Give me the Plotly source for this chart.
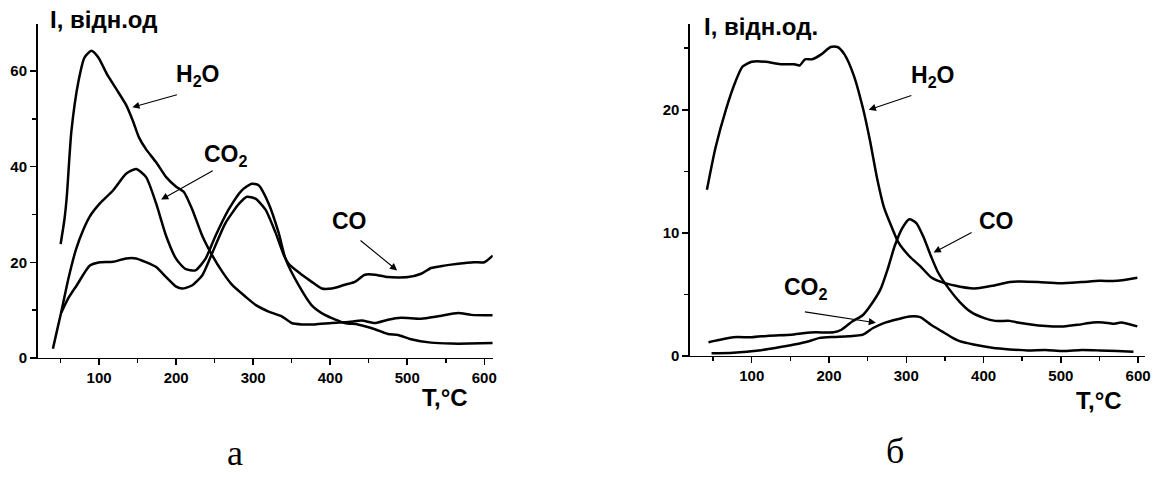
import plotly.graph_objects as go

# ---------------- panel "a" ----------------
T_H2O_a = [50, 55, 58, 64, 73, 81, 90, 99, 110, 122, 135, 144, 152, 161, 174, 187, 200, 210, 221, 234,
           247, 260, 273, 290, 303, 320, 337, 350, 363, 380, 402, 424, 441, 458, 475, 492, 518, 540, 566, 583, 611]
I_H2O_a = [23.8, 29, 33.7, 47.4, 57.7, 62.8, 64.2, 62.8, 59.4, 56.3, 52.9, 49.5, 46, 43.6, 40.9, 37.8, 35.8, 34.7, 31, 25.5,
           21.4, 18, 15.2, 12.8, 11.1, 9.7, 8.7, 7.3, 7, 7, 7.3, 7.5, 7.8, 7.3, 8, 8.4, 8.2, 8.7, 9.4, 9, 8.9]

T_CO2_a = [40, 45, 51, 60, 70, 80, 88, 101, 118, 135, 148, 161, 174, 187, 200, 212, 225, 238, 251, 268,
           285, 298, 307, 320, 333, 342, 359, 376, 393, 419, 436, 458, 475, 488, 505, 531, 557, 580, 611]
I_CO2_a = [1.9, 5.5, 9.7, 16.5, 22.7, 27, 29.6, 32.3, 35, 38.5, 39.5, 37.8, 32.3, 25.5, 20.7, 18.6, 18.3, 20.7, 25.5, 31,
           35, 36.4, 36.1, 32.3, 26.2, 20.7, 15.2, 11, 9, 7.3, 7, 6, 5, 4.8, 3.9, 3.2, 3, 3, 3.1]

T_CO_a = [51, 60, 71, 88, 101, 118, 135, 148, 161, 174, 187, 200, 208, 221, 234, 247, 264, 282, 292, 303,
          316, 329, 340, 346, 359, 376, 389, 402, 419, 432, 445, 458, 475, 501, 518, 531, 548, 566, 587, 600, 611]
I_CO_a = [9.5, 12.5, 15.2, 19.3, 20, 20.1, 20.8, 20.8, 20, 19, 16.9, 14.9, 14.5, 15.2, 17.3, 22, 28.2, 32.3, 33.7, 33.3,
          31, 26.2, 21.4, 19.7, 17.9, 15.9, 14.5, 14.5, 15.3, 15.9, 17.4, 17.4, 16.9, 16.9, 17.6, 18.8, 19.3, 19.7, 20, 20, 21.4]

# ---------------- panel "б" ----------------
T_H2O_b = [42, 53, 67, 79, 88, 100, 118, 137, 155, 162, 169, 178, 190, 202, 211, 220, 232, 244, 253, 262,
           271, 281, 290, 304, 318, 332, 346, 364, 383, 392, 411, 434, 448, 471, 499, 527, 550, 573, 599]
I_H2O_b = [13.5, 16.9, 20.1, 22.3, 23.5, 23.9, 23.9, 23.7, 23.7, 23.6, 24.1, 24.1, 24.5, 25.1, 25.1, 24.5, 22.8, 20.1, 17.5, 14.5,
           12.1, 10.5, 9.2, 8.1, 7.3, 6.4, 6.0, 5.7, 5.5, 5.5, 5.7, 6.0, 6.05, 6.0, 5.9, 6.0, 6.1, 6.1, 6.35]

T_CO_b = [44, 76, 100, 123, 151, 169, 183, 206, 216, 230, 244, 257, 267, 276, 285, 295, 304, 313, 322, 332,
          341, 355, 369, 383, 401, 415, 434, 448, 471, 490, 503, 522, 541, 555, 568, 578, 599]
I_CO_b = [1.12, 1.52, 1.52, 1.65, 1.73, 1.87, 1.92, 1.92, 2.13, 2.8, 3.33, 4.4, 5.47, 7.07, 8.93, 10.4, 11.1, 10.8, 9.7, 8.1,
          6.8, 5.47, 4.4, 3.6, 3.07, 2.85, 2.85, 2.67, 2.48, 2.4, 2.4, 2.53, 2.72, 2.72, 2.61, 2.72, 2.4]

T_CO2_b = [48, 76, 109, 132, 155, 174, 188, 206, 225, 244, 257, 271, 290, 304, 318, 332, 346, 360, 369, 387,
           411, 434, 457, 480, 503, 527, 550, 573, 594]
I_CO2_b = [0.21, 0.27, 0.45, 0.67, 0.93, 1.2, 1.47, 1.55, 1.6, 1.73, 2.27, 2.67, 3.0, 3.2, 3.15, 2.53, 2.0, 1.47, 1.2, 0.93,
           0.67, 0.53, 0.45, 0.48, 0.4, 0.48, 0.45, 0.4, 0.35]

# labels: (text, text x, text y, arrow tail x, tail y, arrow head x, head y) in data units
labels_a = [("H<sub>2</sub>O", 228, 59, 202.9, 55.1, 143.1, 52.4),
            ("CO<sub>2</sub>", 265, 42.4, 249.4, 39.3, 180.5, 33.1),
            ("CO", 425.6, 28.6, 437.4, 24.8, 486.9, 18.3)]
labels_b = [("H<sub>2</sub>O", 334.5, 22.7, 308.5, 21.2, 251.4, 20.0),
            ("CO", 416.4, 11.0, 386.5, 10.1, 335.4, 8.4),
            ("CO<sub>2</sub>", 170.7, 5.5, 166.9, 3.6, 260.7, 2.7)]

FONT = "Liberation Sans, Arial, sans-serif"
SERIF = "Liberation Serif, Times New Roman, serif"
W, H = 1163, 479

fig = go.Figure()
line = dict(color="black", width=2.5, shape="spline", smoothing=0.6)
for T, I in [(T_H2O_a, I_H2O_a), (T_CO2_a, I_CO2_a), (T_CO_a, I_CO_a)]:
    fig.add_trace(go.Scatter(x=T, y=I, mode="lines", line=line, xaxis="x", yaxis="y", showlegend=False, hoverinfo="skip"))
for T, I in [(T_H2O_b, I_H2O_b), (T_CO_b, I_CO_b), (T_CO2_b, I_CO2_b)]:
    fig.add_trace(go.Scatter(x=T, y=I, mode="lines", line=line, xaxis="x2", yaxis="y2", showlegend=False, hoverinfo="skip"))

tickfont = dict(family=FONT, size=15, color="black", weight="bold")
def xax(rng, dom, anchor):
    return dict(domain=dom, range=rng, anchor=anchor, showline=True, linecolor="black", linewidth=1.5,
                ticks="outside", ticklen=6, tickwidth=1.5, tickcolor="black", tick0=0, dtick=100,
                minor=dict(ticks="outside", ticklen=4, tickwidth=1.5, tickcolor="black", dtick=50, tick0=0, showgrid=False),
                showgrid=False, zeroline=False, tickfont=tickfont)
def yax(rng, dom, anchor, dt, mdt):
    return dict(domain=dom, range=rng, anchor=anchor, showline=True, linecolor="black", linewidth=1.5,
                ticks="outside", ticklen=6, tickwidth=1.5, tickcolor="black", tick0=0, dtick=dt,
                minor=dict(ticks="outside", ticklen=4, tickwidth=1.5, tickcolor="black", dtick=mdt, tick0=0, showgrid=False),
                showgrid=False, zeroline=False, tickfont=tickfont)

fig.update_layout(
    width=W, height=H, margin=dict(l=0, r=0, t=0, b=0),
    paper_bgcolor="white", plot_bgcolor="white",
    xaxis=xax([20, 611], [37.7 / W, 495.3 / W], "y"),
    yaxis=yax([0, 69.9], [1 - 364 / H, 1 - 24 / H], "x", 20, 10),
    xaxis2=xax([20, 609], [693.5 / W, 1151 / W], "y2"),
    yaxis2=yax([0, 27], [1 - 362 / H, 1 - 24 / H], "x2", 10, 5),
)

lab_font = dict(family=FONT, size=23, color="black", weight="bold")
anns = []
for labs, xr, yr in [(labels_a, "x", "y"), (labels_b, "x2", "y2")]:
    for txt, tx, ty, ax_, ay_, hx, hy in labs:
        anns.append(dict(x=tx, y=ty, xref=xr, yref=yr, text=txt, showarrow=False, font=lab_font,
                         xanchor="center", yanchor="middle"))
        anns.append(dict(x=hx, y=hy, xref=xr, yref=yr, ax=ax_, ay=ay_, axref=xr, ayref=yr, text="",
                         showarrow=True, arrowhead=2, arrowsize=1.3, arrowwidth=1.1, arrowcolor="black"))

def paper(px, py, text, font, xanchor="center"):
    return dict(x=px / W, y=1 - py / H, xref="paper", yref="paper", text=text, showarrow=False,
                font=font, xanchor=xanchor, yanchor="middle")

title_font = dict(family=FONT, size=24, color="black", weight="bold")
axis_font = dict(family=FONT, size=24, color="black", weight="bold")
anns += [
    paper(48, 20, "I, відн.од", title_font, "left"),
    paper(706, 27, "I, відн.од.", title_font, "left"),
    paper(447, 404, "T,°C", axis_font),
    paper(1105, 407, "T,°C", axis_font),
    paper(236, 461, "а", dict(family=SERIF, size=36, color="black")),
    paper(900, 459, "б", dict(family=SERIF, size=36, color="black")),
]
fig.update_layout(annotations=anns)

fig.write_html("out.html",
               config={"displayModeBar": False, "staticPlot": True},
               post_script="document.body.style.margin='0';document.body.style.padding='0';"
                           "document.body.style.overflow='hidden';")
